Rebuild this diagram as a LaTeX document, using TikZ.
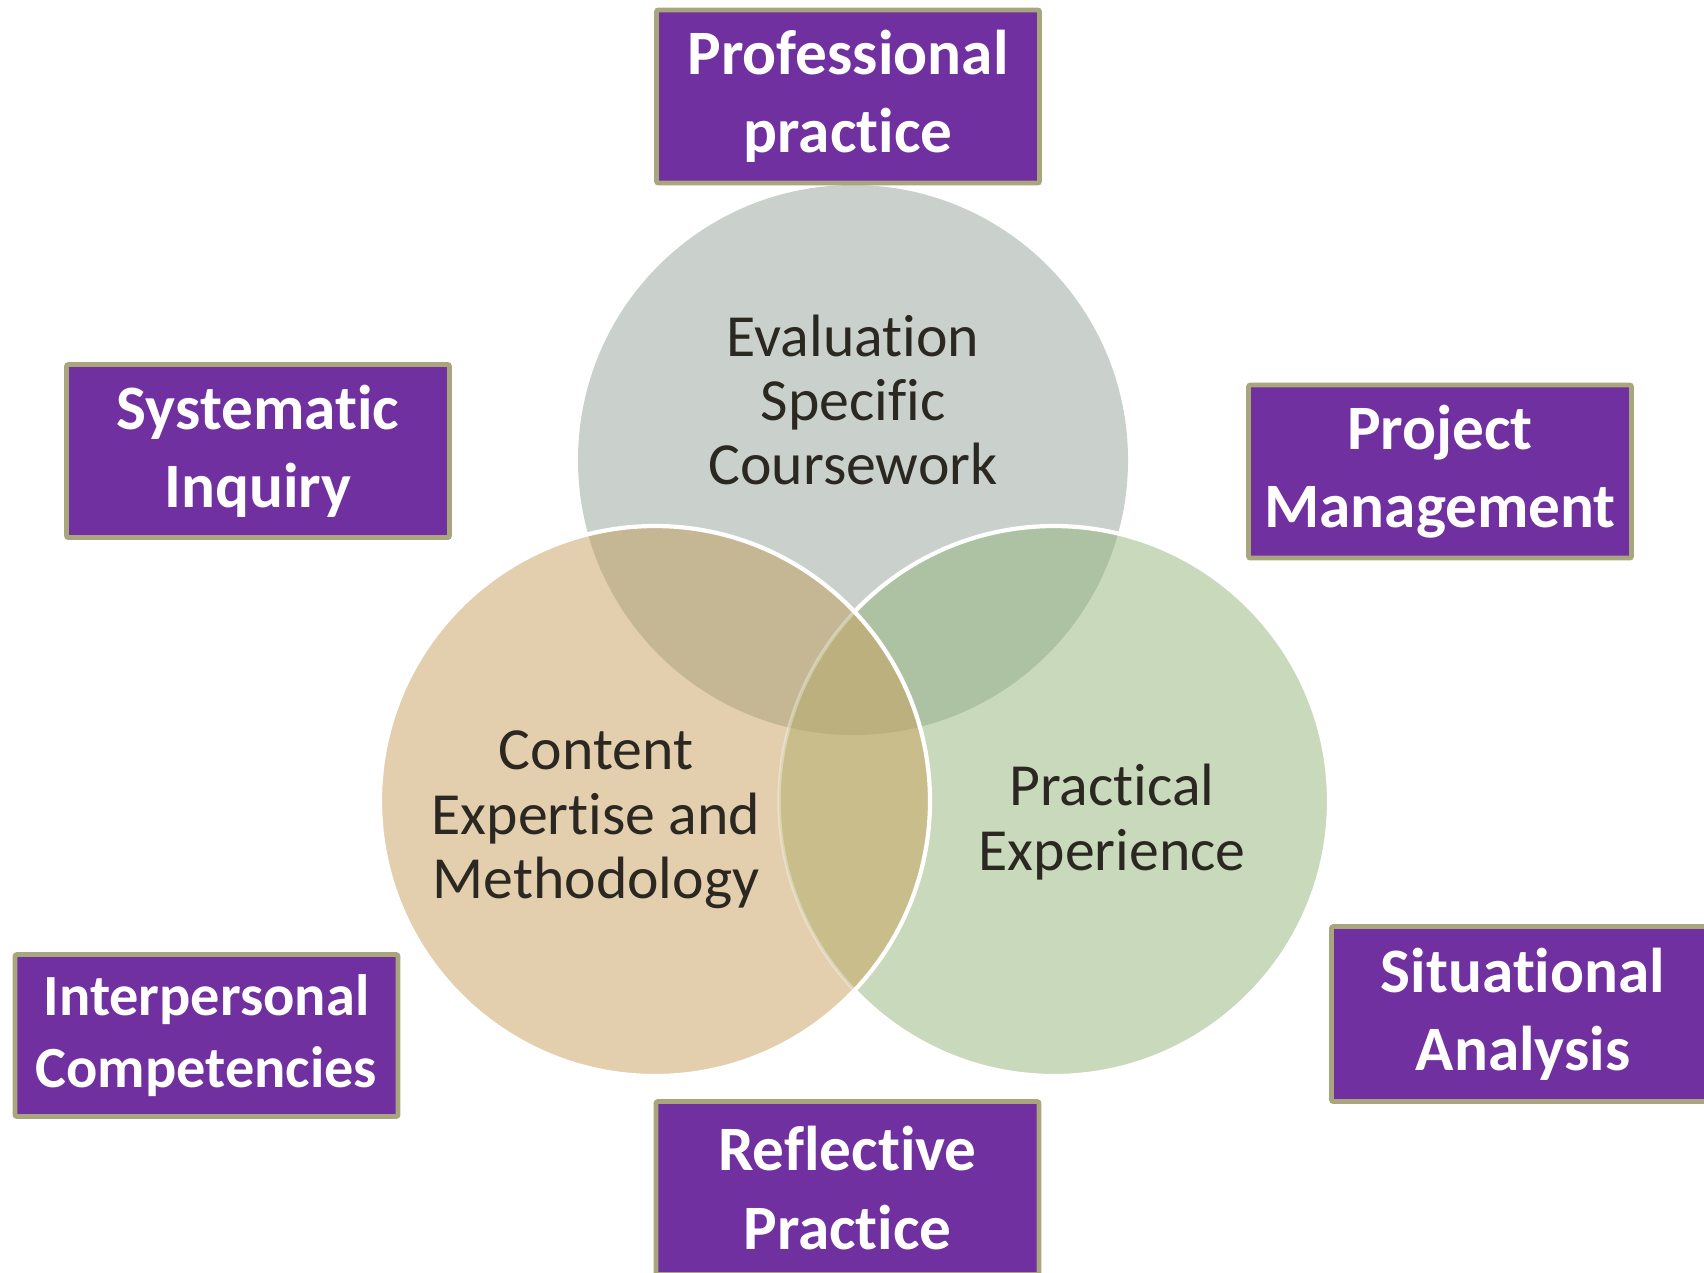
\documentclass[tikz,border=0pt]{standalone}
\usepackage{fontspec}
\setmainfont{Carlito}[Ligatures=NoCommon]
\usetikzlibrary{positioning}
\definecolor{boxpurple}{HTML}{7030A0}
\definecolor{boxedge}{HTML}{A9A57C}
\definecolor{evalgray}{HTML}{CAD1CD}
\definecolor{contan}{HTML}{E3CEAD}
\definecolor{pracgreen}{HTML}{C9D9BB}
\definecolor{tangray}{HTML}{C6B794}
\definecolor{greengray}{HTML}{ADC2A3}
\definecolor{tangreen}{HTML}{C8BD8B}
\definecolor{allthree}{HTML}{BBB07E}
\definecolor{inktext}{HTML}{2B2822}
\pgfdeclareradialshading{vignette}{\pgfpoint{0bp}{0bp}}{color(0bp)=(white); color(32bp)=(white); color(50bp)=(black!10)}
\tikzset{box/.style={rectangle,draw=boxedge,line width=1.4pt,fill=boxpurple,text=white,rounded corners=0.6pt,
  font=\fontsize{18}{22.3}\selectfont\bfseries,align=center,minimum width=3.83cm,minimum height=1.73cm,inner sep=0pt}}
\tikzset{ring/.style={circle,minimum size=5.5cm,inner sep=0pt}}
\tikzset{t/.style={align=center,text=inktext,font=\fontsize{17}{18.3}\selectfont}}
\tikzset{rim/.style={draw=white,line width=1.2pt}}

\begin{document}
\begin{tikzpicture}[x=1cm,y=-1cm]
\useasboundingbox (0,0) rectangle (17.04,12.72);
\shade[shading=vignette] (-1.5,-1) rectangle (18.04,13.72);
% three rings
\node[ring,fill=evalgray] (eval) at (8.53,4.60) {};
\node[ring,fill=pracgreen] (prac) at (10.54,8.01) {};
\begin{scope}
\clip (eval.center) circle[radius=2.75cm];
\fill[greengray] (prac.center) circle[radius=2.75cm];
\end{scope}
\draw[rim] (prac.center) circle[radius=2.75cm];
\node[ring,fill=contan] (cont) at (6.55,8.01) {};
\begin{scope}
\clip (cont.center) circle[radius=2.75cm];
\fill[tangray] (eval.center) circle[radius=2.75cm];
\fill[tangreen] (prac.center) circle[radius=2.75cm];
\clip (eval.center) circle[radius=2.75cm];
\fill[allthree] (prac.center) circle[radius=2.75cm];
\end{scope}
\begin{scope}
\clip (cont.center) circle[radius=2.75cm];
\draw[draw=white,opacity=0.35,line width=1pt] (prac.center) circle[radius=2.75cm];
\end{scope}
\draw[rim] (cont.center) circle[radius=2.75cm];
% ring texts
\node[t] (evaltext) at (8.53,4.00) {Evaluation\\Specific\\Coursework};
\node[t] (conttext) at (5.96,8.20) {Content\\Expertise and\\Methodology};
\node[t] (practext) at (11.12,8.22) {Practical\\Experience};
% competency boxes
\node[box] (prof) at (8.48,0.965) {Professional\\practice};
\node[box] (sys) at (2.58,4.51) {Systematic\\Inquiry};
\node[box] (proj) at (14.40,4.715) {Project\\Management};
\node[box,minimum height=1.62cm,font=\fontsize{16.6}{20.4}\selectfont\bfseries] (inter) at (2.065,10.355) {Interpersonal\\Competencies};
\node[box,minimum height=1.75cm] (situ) at (15.23,10.14) {Situational\\Analysis};
\node[box] (refl) at (8.475,11.88) {Reflective\\Practice};
\end{tikzpicture}
\end{document}
